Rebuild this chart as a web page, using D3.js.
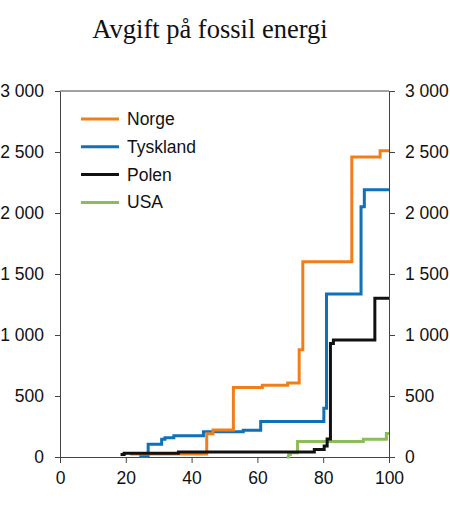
<!DOCTYPE html>
<html>
<head>
<meta charset="utf-8">
<script src="https://cdn.jsdelivr.net/npm/d3@7"></script>
<style>
  body { margin: 0; background: #fff; }
  svg { display: block; }
</style>
</head>
<body>
<div id="chart"></div>
<script>
// step series: [x, value], drawn with step-after
const norge = [[21.3, 25], [44.6, 190], [46.5, 222], [52.7, 570], [61.5, 588], [69.2, 607],
  [72.7, 880], [73.8, 1600], [88.7, 2460], [97.3, 2510], [100, 2510]];
const tyskland = [[24.1, 5], [26.8, 105], [30.9, 145], [31.9, 158], [34.6, 175], [43.6, 207],
  [55.7, 220], [61.0, 292], [80.2, 400], [81.0, 1336], [91.5, 2052], [92.5, 2190], [100, 2190]];
const polen = [[18.4, 20], [19.5, 30], [36.0, 42], [77.3, 62], [80.3, 90], [81.2, 148],
  [82.2, 930], [83.1, 958], [95.7, 1301], [100, 1301]];
const usa = [[68.9, 0], [69.5, 20], [70.0, 35], [72.2, 128], [92.2, 146], [99.2, 192], [100, 192]];

const seriesNames = ['Norge', 'Tyskland', 'Polen', 'USA'];
const seriesColors = ['#f07f1a', '#1070b8', '#111111', '#8cbd5a'];
const seriesData = [norge, tyskland, polen, usa];

const xTicks = [0, 20, 40, 60, 80, 100];
const yTicks = [0, 500, 1000, 1500, 2000, 2500, 3000];

const width = 450, height = 505;
const margin = { top: 91, right: 61, bottom: 48, left: 60 };

const svg = d3.select('#chart').append('svg')
  .attr('width', width)
  .attr('height', height);

const x = d3.scaleLinear().domain([0, 100]).range([margin.left, width - margin.right]);
const y = d3.scaleLinear().domain([0, 3000]).range([height - margin.bottom, margin.top]);

// thousands with a plain space: "3 000"
const fmt = d => d3.format(',')(d).replace(',', ' ');

// title
svg.append('text')
  .attr('x', 210)
  .attr('y', 38)
  .attr('text-anchor', 'middle')
  .style('font-family', '"Liberation Serif", "Times New Roman", serif')
  .style('font-size', '26.5px')
  .attr('fill', '#111')
  .text('Avgift på fossil energi');

// top border
svg.append('line')
  .attr('x1', x(0)).attr('x2', x(100))
  .attr('y1', y(3000)).attr('y2', y(3000))
  .attr('stroke', '#444').attr('stroke-width', 1);

const axisFont = g => {
  g.selectAll('text')
    .style('font-family', '"Liberation Sans", Arial, sans-serif')
    .style('font-size', '17.5px')
    .attr('fill', '#111');
  g.selectAll('line').attr('stroke', '#444');
  g.select('.domain').attr('stroke', '#444');
};

svg.append('g')
  .attr('transform', `translate(0,${y(0)})`)
  .call(d3.axisBottom(x).tickValues(xTicks).tickSize(6).tickSizeOuter(0).tickPadding(9))
  .call(axisFont);

svg.append('g')
  .attr('transform', `translate(${x(0)},0)`)
  .call(d3.axisLeft(y).tickValues(yTicks).tickFormat(fmt).tickSize(5).tickSizeOuter(0).tickPadding(11))
  .call(axisFont);

svg.append('g')
  .attr('transform', `translate(${x(100)},0)`)
  .call(d3.axisRight(y).tickValues(yTicks).tickFormat(fmt).tickSize(6).tickSizeOuter(0).tickPadding(10))
  .call(axisFont);

const line = d3.line()
  .x(d => x(d[0]))
  .y(d => y(d[1]))
  .curve(d3.curveStepAfter);

// draw in order so black/green sit on top as in the reference
[1, 0, 3, 2].forEach(i => {
  svg.append('path')
    .datum(seriesData[i])
    .attr('d', line)
    .attr('fill', 'none')
    .attr('stroke', seriesColors[i])
    .attr('stroke-width', 3)
    .attr('stroke-linejoin', 'miter');
});

// legend
const legend = svg.append('g');
seriesNames.forEach((name, i) => {
  const ly = 119 + i * 27.8;
  legend.append('line')
    .attr('x1', 81).attr('x2', 119)
    .attr('y1', ly).attr('y2', ly)
    .attr('stroke', seriesColors[i])
    .attr('stroke-width', 3);
  legend.append('text')
    .attr('x', 127)
    .attr('y', ly + 6)
    .style('font-family', '"Liberation Sans", Arial, sans-serif')
    .style('font-size', '17.5px')
    .attr('fill', '#111')
    .text(name);
});
</script>
</body>
</html>
